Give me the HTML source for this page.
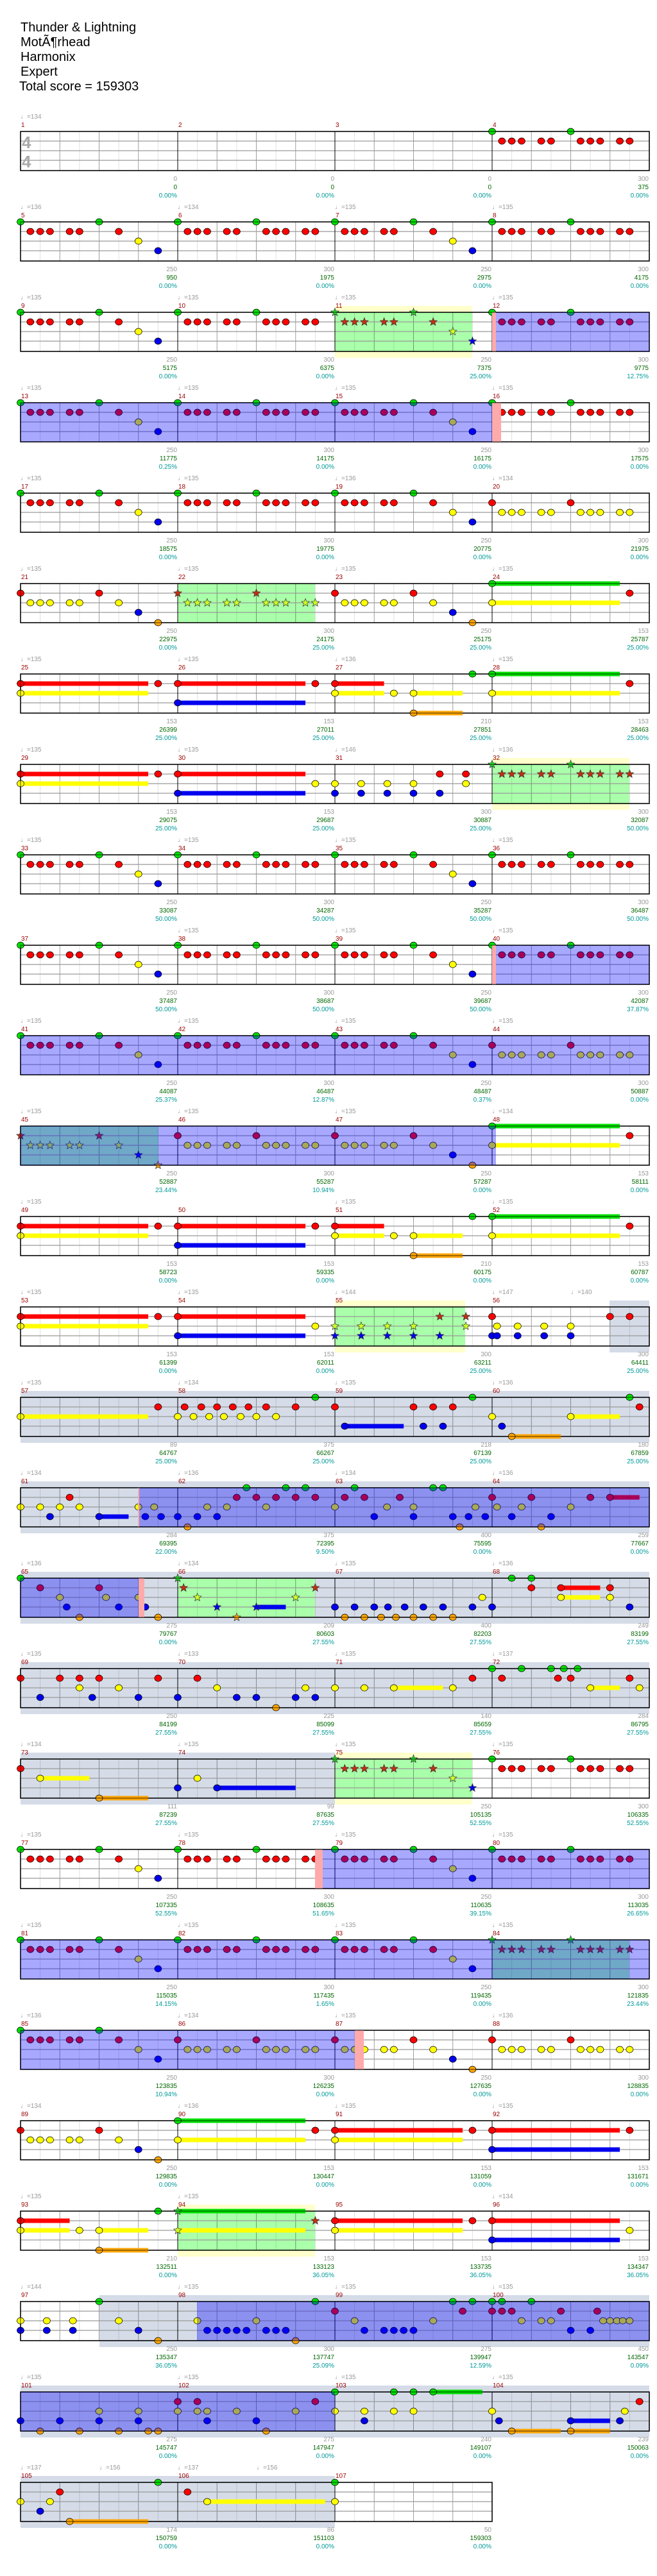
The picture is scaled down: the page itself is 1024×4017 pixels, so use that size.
<!DOCTYPE html>
<html><head><meta charset="utf-8">
<style>
html,body{margin:0;padding:0;background:#fff;}
body{width:1024px;height:4012px;overflow:hidden;}
svg text{font-family:"Liberation Sans",sans-serif;font-size:10px;}
.h{font-size:20px;fill:#000;}
.t{fill:#999;}
.m{fill:#990000;}
.a{fill:#999;text-anchor:end;}
.s{fill:#006600;text-anchor:end;}
.p{fill:#009999;text-anchor:end;}
.ff{font-size:26px;fill:#aaa;font-weight:bold;}
</style></head>
<body>
<svg id="svg" xmlns="http://www.w3.org/2000/svg" width="1024" height="4012" viewBox="0 0 1024 4012">
<g id="shapes"></g>
<g id="texts">
<text class="h" x="32" y="49">Thunder &amp; Lightning</text>
<text class="h" x="32" y="72">MotÃ¶rhead</text>
<text class="h" x="32" y="95">Harmonix</text>
<text class="h" x="32" y="118">Expert</text>
<text class="h" x="30" y="141">Total score = 159303</text>
<text class="ff" x="34" y="231">4</text>
<text class="ff" x="34" y="261">4</text>

<g transform="translate(0,205)">
<text class="t" x="32" y="-20">♩=134</text>
<text class="m" x="33" y="-7">1</text><text class="m" x="278" y="-7">2</text><text class="m" x="523" y="-7">3</text><text class="m" x="768" y="-7">4</text>
<text class="a" x="276" y="77">0</text><text class="a" x="521" y="77">0</text><text class="a" x="766" y="77">0</text><text class="a" x="1011" y="77">300</text>
<text class="s" x="276" y="90">0</text><text class="s" x="521" y="90">0</text><text class="s" x="766" y="90">0</text><text class="s" x="1011" y="90">375</text>
<text class="p" x="276" y="103">0.00%</text><text class="p" x="521" y="103">0.00%</text><text class="p" x="766" y="103">0.00%</text><text class="p" x="1011" y="103">0.00%</text>
</g>
<g transform="translate(0,346)">
<text class="t" x="32" y="-20">♩=136</text><text class="t" x="277" y="-20">♩=134</text><text class="t" x="522" y="-20">♩=135</text><text class="t" x="767" y="-20">♩=135</text>
<text class="m" x="33" y="-7">5</text><text class="m" x="278" y="-7">6</text><text class="m" x="523" y="-7">7</text><text class="m" x="768" y="-7">8</text>
<text class="a" x="276" y="77">250</text><text class="a" x="521" y="77">300</text><text class="a" x="766" y="77">250</text><text class="a" x="1011" y="77">300</text>
<text class="s" x="276" y="90">950</text><text class="s" x="521" y="90">1975</text><text class="s" x="766" y="90">2975</text><text class="s" x="1011" y="90">4175</text>
<text class="p" x="276" y="103">0.00%</text><text class="p" x="521" y="103">0.00%</text><text class="p" x="766" y="103">0.00%</text><text class="p" x="1011" y="103">0.00%</text>
</g>
<g transform="translate(0,487)">
<text class="t" x="32" y="-20">♩=135</text><text class="t" x="277" y="-20">♩=135</text><text class="t" x="522" y="-20">♩=135</text><text class="t" x="767" y="-20">♩=135</text>
<text class="m" x="33" y="-7">9</text><text class="m" x="278" y="-7">10</text><text class="m" x="523" y="-7">11</text><text class="m" x="768" y="-7">12</text>
<text class="a" x="276" y="77">250</text><text class="a" x="521" y="77">300</text><text class="a" x="766" y="77">250</text><text class="a" x="1011" y="77">300</text>
<text class="s" x="276" y="90">5175</text><text class="s" x="521" y="90">6375</text><text class="s" x="766" y="90">7375</text><text class="s" x="1011" y="90">9775</text>
<text class="p" x="276" y="103">0.00%</text><text class="p" x="521" y="103">0.00%</text><text class="p" x="766" y="103">25.00%</text><text class="p" x="1011" y="103">12.75%</text>
</g>
<g transform="translate(0,628)">
<text class="t" x="32" y="-20">♩=135</text><text class="t" x="277" y="-20">♩=135</text><text class="t" x="522" y="-20">♩=135</text><text class="t" x="767" y="-20">♩=135</text>
<text class="m" x="33" y="-7">13</text><text class="m" x="278" y="-7">14</text><text class="m" x="523" y="-7">15</text><text class="m" x="768" y="-7">16</text>
<text class="a" x="276" y="77">250</text><text class="a" x="521" y="77">300</text><text class="a" x="766" y="77">250</text><text class="a" x="1011" y="77">300</text>
<text class="s" x="276" y="90">11775</text><text class="s" x="521" y="90">14175</text><text class="s" x="766" y="90">16175</text><text class="s" x="1011" y="90">17575</text>
<text class="p" x="276" y="103">0.25%</text><text class="p" x="521" y="103">0.00%</text><text class="p" x="766" y="103">0.00%</text><text class="p" x="1011" y="103">0.00%</text>
</g>
<g transform="translate(0,769)">
<text class="t" x="32" y="-20">♩=135</text><text class="t" x="277" y="-20">♩=135</text><text class="t" x="522" y="-20">♩=136</text><text class="t" x="767" y="-20">♩=134</text>
<text class="m" x="33" y="-7">17</text><text class="m" x="278" y="-7">18</text><text class="m" x="523" y="-7">19</text><text class="m" x="768" y="-7">20</text>
<text class="a" x="276" y="77">250</text><text class="a" x="521" y="77">300</text><text class="a" x="766" y="77">250</text><text class="a" x="1011" y="77">300</text>
<text class="s" x="276" y="90">18575</text><text class="s" x="521" y="90">19775</text><text class="s" x="766" y="90">20775</text><text class="s" x="1011" y="90">21975</text>
<text class="p" x="276" y="103">0.00%</text><text class="p" x="521" y="103">0.00%</text><text class="p" x="766" y="103">0.00%</text><text class="p" x="1011" y="103">0.00%</text>
</g>
<g transform="translate(0,910)">
<text class="t" x="32" y="-20">♩=135</text><text class="t" x="277" y="-20">♩=135</text><text class="t" x="522" y="-20">♩=135</text><text class="t" x="767" y="-20">♩=135</text>
<text class="m" x="33" y="-7">21</text><text class="m" x="278" y="-7">22</text><text class="m" x="523" y="-7">23</text><text class="m" x="768" y="-7">24</text>
<text class="a" x="276" y="77">250</text><text class="a" x="521" y="77">300</text><text class="a" x="766" y="77">250</text><text class="a" x="1011" y="77">153</text>
<text class="s" x="276" y="90">22975</text><text class="s" x="521" y="90">24175</text><text class="s" x="766" y="90">25175</text><text class="s" x="1011" y="90">25787</text>
<text class="p" x="276" y="103">0.00%</text><text class="p" x="521" y="103">25.00%</text><text class="p" x="766" y="103">25.00%</text><text class="p" x="1011" y="103">25.00%</text>
</g>
<g transform="translate(0,1051)">
<text class="t" x="32" y="-20">♩=135</text><text class="t" x="277" y="-20">♩=135</text><text class="t" x="522" y="-20">♩=136</text><text class="t" x="767" y="-20">♩=135</text>
<text class="m" x="33" y="-7">25</text><text class="m" x="278" y="-7">26</text><text class="m" x="523" y="-7">27</text><text class="m" x="768" y="-7">28</text>
<text class="a" x="276" y="77">153</text><text class="a" x="521" y="77">153</text><text class="a" x="766" y="77">210</text><text class="a" x="1011" y="77">153</text>
<text class="s" x="276" y="90">26399</text><text class="s" x="521" y="90">27011</text><text class="s" x="766" y="90">27851</text><text class="s" x="1011" y="90">28463</text>
<text class="p" x="276" y="103">25.00%</text><text class="p" x="521" y="103">25.00%</text><text class="p" x="766" y="103">25.00%</text><text class="p" x="1011" y="103">25.00%</text>
</g>
<g transform="translate(0,1192)">
<text class="t" x="32" y="-20">♩=135</text><text class="t" x="277" y="-20">♩=135</text><text class="t" x="522" y="-20">♩=146</text><text class="t" x="767" y="-20">♩=136</text>
<text class="m" x="33" y="-7">29</text><text class="m" x="278" y="-7">30</text><text class="m" x="523" y="-7">31</text><text class="m" x="768" y="-7">32</text>
<text class="a" x="276" y="77">153</text><text class="a" x="521" y="77">153</text><text class="a" x="766" y="77">300</text><text class="a" x="1011" y="77">300</text>
<text class="s" x="276" y="90">29075</text><text class="s" x="521" y="90">29687</text><text class="s" x="766" y="90">30887</text><text class="s" x="1011" y="90">32087</text>
<text class="p" x="276" y="103">25.00%</text><text class="p" x="521" y="103">25.00%</text><text class="p" x="766" y="103">25.00%</text><text class="p" x="1011" y="103">50.00%</text>
</g>
<g transform="translate(0,1333)">
<text class="t" x="32" y="-20">♩=135</text><text class="t" x="277" y="-20">♩=135</text><text class="t" x="522" y="-20">♩=135</text><text class="t" x="767" y="-20">♩=135</text>
<text class="m" x="33" y="-7">33</text><text class="m" x="278" y="-7">34</text><text class="m" x="523" y="-7">35</text><text class="m" x="768" y="-7">36</text>
<text class="a" x="276" y="77">250</text><text class="a" x="521" y="77">300</text><text class="a" x="766" y="77">250</text><text class="a" x="1011" y="77">300</text>
<text class="s" x="276" y="90">33087</text><text class="s" x="521" y="90">34287</text><text class="s" x="766" y="90">35287</text><text class="s" x="1011" y="90">36487</text>
<text class="p" x="276" y="103">50.00%</text><text class="p" x="521" y="103">50.00%</text><text class="p" x="766" y="103">50.00%</text><text class="p" x="1011" y="103">50.00%</text>
</g>
<g transform="translate(0,1474)">
<text class="t" x="277" y="-20">♩=135</text><text class="t" x="522" y="-20">♩=135</text><text class="t" x="767" y="-20">♩=135</text>
<text class="m" x="33" y="-7">37</text><text class="m" x="278" y="-7">38</text><text class="m" x="523" y="-7">39</text><text class="m" x="768" y="-7">40</text>
<text class="a" x="276" y="77">250</text><text class="a" x="521" y="77">300</text><text class="a" x="766" y="77">250</text><text class="a" x="1011" y="77">300</text>
<text class="s" x="276" y="90">37487</text><text class="s" x="521" y="90">38687</text><text class="s" x="766" y="90">39687</text><text class="s" x="1011" y="90">42087</text>
<text class="p" x="276" y="103">50.00%</text><text class="p" x="521" y="103">50.00%</text><text class="p" x="766" y="103">50.00%</text><text class="p" x="1011" y="103">37.87%</text>
</g>
<g transform="translate(0,1615)">
<text class="t" x="32" y="-20">♩=135</text><text class="t" x="277" y="-20">♩=135</text><text class="t" x="522" y="-20">♩=135</text><text class="t" x="767" y="-20">♩=135</text>
<text class="m" x="33" y="-7">41</text><text class="m" x="278" y="-7">42</text><text class="m" x="523" y="-7">43</text><text class="m" x="768" y="-7">44</text>
<text class="a" x="276" y="77">250</text><text class="a" x="521" y="77">300</text><text class="a" x="766" y="77">250</text><text class="a" x="1011" y="77">300</text>
<text class="s" x="276" y="90">44087</text><text class="s" x="521" y="90">46487</text><text class="s" x="766" y="90">48487</text><text class="s" x="1011" y="90">50887</text>
<text class="p" x="276" y="103">25.37%</text><text class="p" x="521" y="103">12.87%</text><text class="p" x="766" y="103">0.37%</text><text class="p" x="1011" y="103">0.00%</text>
</g>
<g transform="translate(0,1756)">
<text class="t" x="32" y="-20">♩=135</text><text class="t" x="277" y="-20">♩=135</text><text class="t" x="522" y="-20">♩=135</text><text class="t" x="767" y="-20">♩=134</text>
<text class="m" x="33" y="-7">45</text><text class="m" x="278" y="-7">46</text><text class="m" x="523" y="-7">47</text><text class="m" x="768" y="-7">48</text>
<text class="a" x="276" y="77">250</text><text class="a" x="521" y="77">300</text><text class="a" x="766" y="77">250</text><text class="a" x="1011" y="77">153</text>
<text class="s" x="276" y="90">52887</text><text class="s" x="521" y="90">55287</text><text class="s" x="766" y="90">57287</text><text class="s" x="1011" y="90">58111</text>
<text class="p" x="276" y="103">23.44%</text><text class="p" x="521" y="103">10.94%</text><text class="p" x="766" y="103">0.00%</text><text class="p" x="1011" y="103">0.00%</text>
</g>
<g transform="translate(0,1897)">
<text class="t" x="32" y="-20">♩=135</text><text class="t" x="522" y="-20">♩=135</text><text class="t" x="767" y="-20">♩=135</text>
<text class="m" x="33" y="-7">49</text><text class="m" x="278" y="-7">50</text><text class="m" x="523" y="-7">51</text><text class="m" x="768" y="-7">52</text>
<text class="a" x="276" y="77">153</text><text class="a" x="521" y="77">153</text><text class="a" x="766" y="77">210</text><text class="a" x="1011" y="77">153</text>
<text class="s" x="276" y="90">58723</text><text class="s" x="521" y="90">59335</text><text class="s" x="766" y="90">60175</text><text class="s" x="1011" y="90">60787</text>
<text class="p" x="276" y="103">0.00%</text><text class="p" x="521" y="103">0.00%</text><text class="p" x="766" y="103">0.00%</text><text class="p" x="1011" y="103">0.00%</text>
</g>
<g transform="translate(0,2038)">
<text class="t" x="32" y="-20">♩=135</text><text class="t" x="277" y="-20">♩=135</text><text class="t" x="522" y="-20">♩=144</text><text class="t" x="767" y="-20">♩=147</text><text class="t" x="890" y="-20">♩=140</text>
<text class="m" x="33" y="-7">53</text><text class="m" x="278" y="-7">54</text><text class="m" x="523" y="-7">55</text><text class="m" x="768" y="-7">56</text>
<text class="a" x="276" y="77">153</text><text class="a" x="521" y="77">153</text><text class="a" x="766" y="77">300</text><text class="a" x="1011" y="77">300</text>
<text class="s" x="276" y="90">61399</text><text class="s" x="521" y="90">62011</text><text class="s" x="766" y="90">63211</text><text class="s" x="1011" y="90">64411</text>
<text class="p" x="276" y="103">0.00%</text><text class="p" x="521" y="103">0.00%</text><text class="p" x="766" y="103">25.00%</text><text class="p" x="1011" y="103">25.00%</text>
</g>
<g transform="translate(0,2179)">
<text class="t" x="32" y="-20">♩=135</text><text class="t" x="277" y="-20">♩=134</text><text class="t" x="522" y="-20">♩=135</text><text class="t" x="767" y="-20">♩=136</text>
<text class="m" x="33" y="-7">57</text><text class="m" x="278" y="-7">58</text><text class="m" x="523" y="-7">59</text><text class="m" x="768" y="-7">60</text>
<text class="a" x="276" y="77">89</text><text class="a" x="521" y="77">375</text><text class="a" x="766" y="77">218</text><text class="a" x="1011" y="77">180</text>
<text class="s" x="276" y="90">64767</text><text class="s" x="521" y="90">66267</text><text class="s" x="766" y="90">67139</text><text class="s" x="1011" y="90">67859</text>
<text class="p" x="276" y="103">25.00%</text><text class="p" x="521" y="103">25.00%</text><text class="p" x="766" y="103">25.00%</text><text class="p" x="1011" y="103">25.00%</text>
</g>
<g transform="translate(0,2320)">
<text class="t" x="32" y="-20">♩=134</text><text class="t" x="277" y="-20">♩=136</text><text class="t" x="522" y="-20">♩=134</text><text class="t" x="767" y="-20">♩=136</text>
<text class="m" x="33" y="-7">61</text><text class="m" x="278" y="-7">62</text><text class="m" x="523" y="-7">63</text><text class="m" x="768" y="-7">64</text>
<text class="a" x="276" y="77">284</text><text class="a" x="521" y="77">375</text><text class="a" x="766" y="77">400</text><text class="a" x="1011" y="77">259</text>
<text class="s" x="276" y="90">69395</text><text class="s" x="521" y="90">72395</text><text class="s" x="766" y="90">75595</text><text class="s" x="1011" y="90">77667</text>
<text class="p" x="276" y="103">22.00%</text><text class="p" x="521" y="103">9.50%</text><text class="p" x="766" y="103">0.00%</text><text class="p" x="1011" y="103">0.00%</text>
</g>
<g transform="translate(0,2461)">
<text class="t" x="32" y="-20">♩=136</text><text class="t" x="277" y="-20">♩=134</text><text class="t" x="522" y="-20">♩=135</text><text class="t" x="767" y="-20">♩=136</text>
<text class="m" x="33" y="-7">65</text><text class="m" x="278" y="-7">66</text><text class="m" x="523" y="-7">67</text><text class="m" x="768" y="-7">68</text>
<text class="a" x="276" y="77">275</text><text class="a" x="521" y="77">209</text><text class="a" x="766" y="77">400</text><text class="a" x="1011" y="77">249</text>
<text class="s" x="276" y="90">79767</text><text class="s" x="521" y="90">80603</text><text class="s" x="766" y="90">82203</text><text class="s" x="1011" y="90">83199</text>
<text class="p" x="276" y="103">0.00%</text><text class="p" x="521" y="103">27.55%</text><text class="p" x="766" y="103">27.55%</text><text class="p" x="1011" y="103">27.55%</text>
</g>
<g transform="translate(0,2602)">
<text class="t" x="32" y="-20">♩=135</text><text class="t" x="277" y="-20">♩=133</text><text class="t" x="522" y="-20">♩=135</text><text class="t" x="767" y="-20">♩=137</text>
<text class="m" x="33" y="-7">69</text><text class="m" x="278" y="-7">70</text><text class="m" x="523" y="-7">71</text><text class="m" x="768" y="-7">72</text>
<text class="a" x="276" y="77">250</text><text class="a" x="521" y="77">225</text><text class="a" x="766" y="77">140</text><text class="a" x="1011" y="77">284</text>
<text class="s" x="276" y="90">84199</text><text class="s" x="521" y="90">85099</text><text class="s" x="766" y="90">85659</text><text class="s" x="1011" y="90">86795</text>
<text class="p" x="276" y="103">27.55%</text><text class="p" x="521" y="103">27.55%</text><text class="p" x="766" y="103">27.55%</text><text class="p" x="1011" y="103">27.55%</text>
</g>
<g transform="translate(0,2743)">
<text class="t" x="32" y="-20">♩=134</text><text class="t" x="277" y="-20">♩=135</text><text class="t" x="522" y="-20">♩=135</text><text class="t" x="767" y="-20">♩=135</text>
<text class="m" x="33" y="-7">73</text><text class="m" x="278" y="-7">74</text><text class="m" x="523" y="-7">75</text><text class="m" x="768" y="-7">76</text>
<text class="a" x="276" y="77">111</text><text class="a" x="521" y="77">99</text><text class="a" x="766" y="77">250</text><text class="a" x="1011" y="77">300</text>
<text class="s" x="276" y="90">87239</text><text class="s" x="521" y="90">87635</text><text class="s" x="766" y="90">105135</text><text class="s" x="1011" y="90">106335</text>
<text class="p" x="276" y="103">27.55%</text><text class="p" x="521" y="103">27.55%</text><text class="p" x="766" y="103">52.55%</text><text class="p" x="1011" y="103">52.55%</text>
</g>
<g transform="translate(0,2884)">
<text class="t" x="32" y="-20">♩=135</text><text class="t" x="277" y="-20">♩=135</text><text class="t" x="522" y="-20">♩=135</text><text class="t" x="767" y="-20">♩=135</text>
<text class="m" x="33" y="-7">77</text><text class="m" x="278" y="-7">78</text><text class="m" x="523" y="-7">79</text><text class="m" x="768" y="-7">80</text>
<text class="a" x="276" y="77">250</text><text class="a" x="521" y="77">300</text><text class="a" x="766" y="77">250</text><text class="a" x="1011" y="77">300</text>
<text class="s" x="276" y="90">107335</text><text class="s" x="521" y="90">108635</text><text class="s" x="766" y="90">110635</text><text class="s" x="1011" y="90">113035</text>
<text class="p" x="276" y="103">52.55%</text><text class="p" x="521" y="103">51.65%</text><text class="p" x="766" y="103">39.15%</text><text class="p" x="1011" y="103">26.65%</text>
</g>
<g transform="translate(0,3025)">
<text class="t" x="32" y="-20">♩=135</text><text class="t" x="277" y="-20">♩=135</text><text class="t" x="522" y="-20">♩=135</text><text class="t" x="767" y="-20">♩=135</text>
<text class="m" x="33" y="-7">81</text><text class="m" x="278" y="-7">82</text><text class="m" x="523" y="-7">83</text><text class="m" x="768" y="-7">84</text>
<text class="a" x="276" y="77">250</text><text class="a" x="521" y="77">300</text><text class="a" x="766" y="77">250</text><text class="a" x="1011" y="77">300</text>
<text class="s" x="276" y="90">115035</text><text class="s" x="521" y="90">117435</text><text class="s" x="766" y="90">119435</text><text class="s" x="1011" y="90">121835</text>
<text class="p" x="276" y="103">14.15%</text><text class="p" x="521" y="103">1.65%</text><text class="p" x="766" y="103">0.00%</text><text class="p" x="1011" y="103">23.44%</text>
</g>
<g transform="translate(0,3166)">
<text class="t" x="32" y="-20">♩=136</text><text class="t" x="277" y="-20">♩=134</text><text class="t" x="522" y="-20">♩=135</text><text class="t" x="767" y="-20">♩=136</text>
<text class="m" x="33" y="-7">85</text><text class="m" x="278" y="-7">86</text><text class="m" x="523" y="-7">87</text><text class="m" x="768" y="-7">88</text>
<text class="a" x="276" y="77">250</text><text class="a" x="521" y="77">300</text><text class="a" x="766" y="77">250</text><text class="a" x="1011" y="77">300</text>
<text class="s" x="276" y="90">123835</text><text class="s" x="521" y="90">126235</text><text class="s" x="766" y="90">127635</text><text class="s" x="1011" y="90">128835</text>
<text class="p" x="276" y="103">10.94%</text><text class="p" x="521" y="103">0.00%</text><text class="p" x="766" y="103">0.00%</text><text class="p" x="1011" y="103">0.00%</text>
</g>
<g transform="translate(0,3307)">
<text class="t" x="32" y="-20">♩=134</text><text class="t" x="277" y="-20">♩=136</text><text class="t" x="522" y="-20">♩=135</text><text class="t" x="767" y="-20">♩=135</text>
<text class="m" x="33" y="-7">89</text><text class="m" x="278" y="-7">90</text><text class="m" x="523" y="-7">91</text><text class="m" x="768" y="-7">92</text>
<text class="a" x="276" y="77">250</text><text class="a" x="521" y="77">153</text><text class="a" x="766" y="77">153</text><text class="a" x="1011" y="77">153</text>
<text class="s" x="276" y="90">129835</text><text class="s" x="521" y="90">130447</text><text class="s" x="766" y="90">131059</text><text class="s" x="1011" y="90">131671</text>
<text class="p" x="276" y="103">0.00%</text><text class="p" x="521" y="103">0.00%</text><text class="p" x="766" y="103">0.00%</text><text class="p" x="1011" y="103">0.00%</text>
</g>
<g transform="translate(0,3448)">
<text class="t" x="32" y="-20">♩=135</text><text class="t" x="277" y="-20">♩=135</text><text class="t" x="767" y="-20">♩=134</text>
<text class="m" x="33" y="-7">93</text><text class="m" x="278" y="-7">94</text><text class="m" x="523" y="-7">95</text><text class="m" x="768" y="-7">96</text>
<text class="a" x="276" y="77">210</text><text class="a" x="521" y="77">153</text><text class="a" x="766" y="77">153</text><text class="a" x="1011" y="77">153</text>
<text class="s" x="276" y="90">132511</text><text class="s" x="521" y="90">133123</text><text class="s" x="766" y="90">133735</text><text class="s" x="1011" y="90">134347</text>
<text class="p" x="276" y="103">0.00%</text><text class="p" x="521" y="103">36.05%</text><text class="p" x="766" y="103">36.05%</text><text class="p" x="1011" y="103">36.05%</text>
</g>
<g transform="translate(0,3589)">
<text class="t" x="32" y="-20">♩=144</text><text class="t" x="277" y="-20">♩=135</text><text class="t" x="522" y="-20">♩=135</text><text class="t" x="767" y="-20">♩=135</text>
<text class="m" x="33" y="-7">97</text><text class="m" x="278" y="-7">98</text><text class="m" x="523" y="-7">99</text><text class="m" x="768" y="-7">100</text>
<text class="a" x="276" y="77">250</text><text class="a" x="521" y="77">300</text><text class="a" x="766" y="77">275</text><text class="a" x="1011" y="77">450</text>
<text class="s" x="276" y="90">135347</text><text class="s" x="521" y="90">137747</text><text class="s" x="766" y="90">139947</text><text class="s" x="1011" y="90">143547</text>
<text class="p" x="276" y="103">36.05%</text><text class="p" x="521" y="103">25.09%</text><text class="p" x="766" y="103">12.59%</text><text class="p" x="1011" y="103">0.09%</text>
</g>
<g transform="translate(0,3730)">
<text class="t" x="32" y="-20">♩=135</text><text class="t" x="277" y="-20">♩=135</text><text class="t" x="522" y="-20">♩=135</text><text class="t" x="767" y="-20">♩=135</text>
<text class="m" x="33" y="-7">101</text><text class="m" x="278" y="-7">102</text><text class="m" x="523" y="-7">103</text><text class="m" x="768" y="-7">104</text>
<text class="a" x="276" y="77">275</text><text class="a" x="521" y="77">275</text><text class="a" x="766" y="77">240</text><text class="a" x="1011" y="77">239</text>
<text class="s" x="276" y="90">145747</text><text class="s" x="521" y="90">147947</text><text class="s" x="766" y="90">149107</text><text class="s" x="1011" y="90">150063</text>
<text class="p" x="276" y="103">0.00%</text><text class="p" x="521" y="103">0.00%</text><text class="p" x="766" y="103">0.00%</text><text class="p" x="1011" y="103">0.00%</text>
</g>
<g transform="translate(0,3871)">
<text class="t" x="32" y="-20">♩=137</text><text class="t" x="155" y="-20">♩=156</text><text class="t" x="277" y="-20">♩=137</text><text class="t" x="400" y="-20">♩=156</text>
<text class="m" x="33" y="-7">105</text><text class="m" x="278" y="-7">106</text><text class="m" x="523" y="-7">107</text>
<text class="a" x="276" y="77">174</text><text class="a" x="521" y="77">86</text><text class="a" x="766" y="77">50</text>
<text class="s" x="276" y="90">150759</text><text class="s" x="521" y="90">151103</text><text class="s" x="766" y="90">159303</text>
<text class="p" x="276" y="103">0.00%</text><text class="p" x="521" y="103">0.00%</text><text class="p" x="766" y="103">0.00%</text>
</g>
</g>
</svg>
<script>
(function(){
var NS="http://www.w3.org/2000/svg";
var root=document.getElementById("shapes");
function el(tag,a){var e=document.createElementNS(NS,tag);for(var k in a)e.setAttribute(k,a[k]);root.appendChild(e);return e;}
var LY={g:0,r:15,y:30,b:45,o:61};
var COL={g:"#00e000",r:"#ff0000",y:"#ffff00",b:"#0000ee",o:"#ffa500"};
var A="0g 1r 2r 3r 5r 6r 8g 9r 10r 11r 13r 14r";
var B="0g 1r 2r 3r 5r 6r 8g 10r 12y 14b";
var Y="0r 1y 2y 3y 5y 6y 8r 9y 10y 11y 13y 14y";
var C="0r 1y 2y 3y 5y 6y 8r 10y 12b 14o";
var S24="0gy-13 14r",S25="0ry-13 14r",S26="0rb-13 14r",S27="0ry-5 6y 8yo-13 14g",S30="0rb-13 14y";
var M31="0yb 2.67yb 5.33yb 8yb 10.67rb 13.33ry";
var rows=[
{n:["","","",A]},
{n:[B,A,B,A]},
{n:[B,A,"*"+B,A],sp:[[522,736,1]],od:[[773,1012]],mk:[[767,773]]},
{n:[B,A,B,A],od:[[32,767]],mk:[[767,781]]},
{n:[B,A,B,Y]},
{n:[C,"*"+Y,C,S24],sp:[[277,491,0]]},
{n:[S25,S26,S27,S24]},
{n:[S25,S30,M31,"*"+A],sp:[[767,981,1]]},
{n:[B,A,B,A]},
{n:[B,A,B,A],od:[[773,1012]],mk:[[767,773]]},
{n:[B,A,B,Y],od:[[32,1012]]},
{n:["*"+C,Y,C,S24],sp:[[32,247,0]],od:[[32,773]]},
{n:[S25,S26,S27,S24]},
{n:[S25,S30,"*"+M31,"0rb 0.5yb 2.6yb 5.3yb 8yb 12r 14r"],sp:[[522,725,1]],gr:[[950,1012]]},
{n:["0y-13 14r","0y 0.7r 1.6y 2.4r 3.2y 4r 4.7y 5.6r 6.4y 7.2r 8y 9r 10y 12r 14g","0r 1b-7 8r 9b 10r 11b 12r 14g","0y 1b 2o-7 8y-13 14g 15r"],gr:[[32,1012]]},
{n:["0y 2y 3b 4y 5r 6y 8b-11 12y 12.7b 13.6y 14.3b","0b 1o 2b 3y 4b 5y 6r 7g 8r 9y 10r 11g 12r 13g 14r","0y 1r 2g 3r 4b 5.3y 6.6r 8yb 10g 11g 12b 12.7o 13.6b 14.3y 15.3b","0r 0.5y 2b 3y 4r 5o 6b 8y 10r 12r-15"],gr:[[32,1012]],od:[[216,1012]],mk:[[215,217]]},
{n:["0g 2r 4y 4.7b 6o 8r 8.7y 10b 12y 12.7b 14o","*0g 0.6r 2y 4b 6o 8b-11 12y 14r","0b 1o 2b 3o 4b 4.7o 5.4b 6.2o 7.1b 8o 9b 10o 11b 12o 14b 15y","0b 2g 4gr 7ry-11 12ry 14b"],gr:[[32,1012]],od:[[32,216]],mk:[[216,225]],sp:[[277,491,0]]},
{n:["0r 2b 4r 6ry 7.3b 8r 10y 12b 14r","0b 2r 4y 6b 8b 10o 12b 13y 14b","0y 3y 6y-11 12y 14r","0g 1r 3g 6g 6.7r 7.3g 8r 8.7g 10y-13 14r 15y"],gr:[[32,1012]]},
{n:["0r 2y-7 8o-13","0b 2y 4b-12","*"+B,A],gr:[[32,522]],sp:[[522,736,1]]},
{n:[B,A,B,A],od:[[503,1012]],mk:[[491,503]]},
{n:[B,A,B,"*"+A],od:[[32,1012]],sp:[[767,981,0]]},
{n:[B,Y,C,Y],od:[[32,553]],mk:[[553,567]]},
{n:[C,"0gy-13 14r",S25,"0rb-13 14r"]},
{n:["0ry-5 6y 8yo-13 14g","*0gy-13 14r",S25,S30],sp:[[277,491,1]]},
{n:["0yb 2.67yb 5.33yb 8g 10y 12b 14o","2y 3b 4b 5b 6b 7b 8y 9b 10b 11b 12o 14g","0r 2y 3b 5b 6b 7b 8b 10y 12g 13r 14g","0gr 1gr 2r 3y 4g 5y 6y 7r 8b 10b 10.7r 11.3y 12y 12.7y 13.3y 14y"],gr:[[155,1012]],od:[[307,1012]]},
{n:["0b 2o 4b 6o 8yb 10o 12yb 13o 14o","0ry 2ry 3yb 6y 8b 9o 12y 14r","0gy 3yb 6gy 8gy 10g-15","0y 0.7b 2o-7 8bo-12 13b 13.5y 15r"],gr:[[32,1012]],od:[[32,522]]},
{n:["0y 2b 3y 4r 5o-13 14g","1r 3y-15","0gy"],gr:[[32,522]]}
];
var U=245/16;
function star(cx,cy,fill){var p=[];for(var i=0;i<10;i++){var r=i%2?2.8:6.5;var a=-Math.PI/2+i*Math.PI/5;p.push((cx+r*Math.cos(a)).toFixed(1)+","+(cy+r*Math.sin(a)).toFixed(1));}
el("polygon",{points:p.join(" "),fill:fill,stroke:"#333","stroke-width":"0.7"});}
rows.forEach(function(R,i){
var T=205+141*i,n=R.n.length,W=n*245;
(R.gr||[]).forEach(function(g){el("rect",{x:g[0],y:T-10,width:g[1]-g[0],height:81,fill:"#d5dce8"});});
(R.sp||[]).forEach(function(s){if(s[2])el("rect",{x:s[0],y:T-10,width:s[1]-s[0],height:81,fill:"#ffffcc"});});
(R.sp||[]).forEach(function(s){el("rect",{x:s[0],y:T,width:s[1]-s[0],height:61,fill:"#aaffaa"});});
for(var m=0;m<n;m++){for(var k=1;k<8;k++){var x=32+245*m+k*30.625;
el("line",{x1:x,y1:T,x2:x,y2:T+61,stroke:k%2?"rgba(0,0,0,0.12)":"rgba(0,0,0,0.38)","stroke-width":1});}}
[15,30,45].forEach(function(d){el("line",{x1:32,y1:T+d,x2:32+W,y2:T+d,stroke:"#999","stroke-width":1.2});});
for(var m2=1;m2<n;m2++){var xm=32+245*m2;el("line",{x1:xm,y1:T,x2:xm,y2:T+61,stroke:"#000","stroke-width":1});}
el("rect",{x:32,y:T,width:W,height:61,fill:"none",stroke:"#000","stroke-width":1.5});
var heads=[];
R.n.forEach(function(s,m){if(!s)return;var st=false;if(s[0]=="*"){st=true;s=s.slice(1);}
s.split(" ").forEach(function(tok){var mt=tok.match(/^([\d.]+)([gryob]+)(?:-([\d.]+))?$/);if(!mt)return;
var x=32+245*m+parseFloat(mt[1])*U;var lanes=mt[2].split("");
lanes.forEach(function(l){var y=T+LY[l];
if(mt[3]){var xe=32+245*m+parseFloat(mt[3])*U;el("rect",{x:x,y:y-3.5,width:xe-x,height:7,fill:COL[l]});}
heads.push([x,y,l,st]);});});});
heads.forEach(function(h){if(h[3])star(h[0],h[1],h[2]=="r"?"#c03010":h[2]=="y"?"#ccff22":h[2]=="g"?"#22dd22":COL[h[2]]);
else el("ellipse",{cx:h[0],cy:h[1],rx:5.5,ry:5,fill:COL[h[2]],stroke:"#000","stroke-width":0.7});});
(R.od||[]).forEach(function(o){el("rect",{x:o[0],y:T,width:o[1]-o[0],height:61,fill:"rgba(0,0,255,0.34)"});});
(R.mk||[]).forEach(function(o){el("rect",{x:o[0],y:T,width:Math.max(1,o[1]-o[0]),height:61,fill:"#ffaaaa"});});
el("rect",{x:32,y:T,width:W,height:61,fill:"none",stroke:"#000","stroke-width":1.2,"stroke-opacity":0.6});
});
})();
</script>
</body></html>
